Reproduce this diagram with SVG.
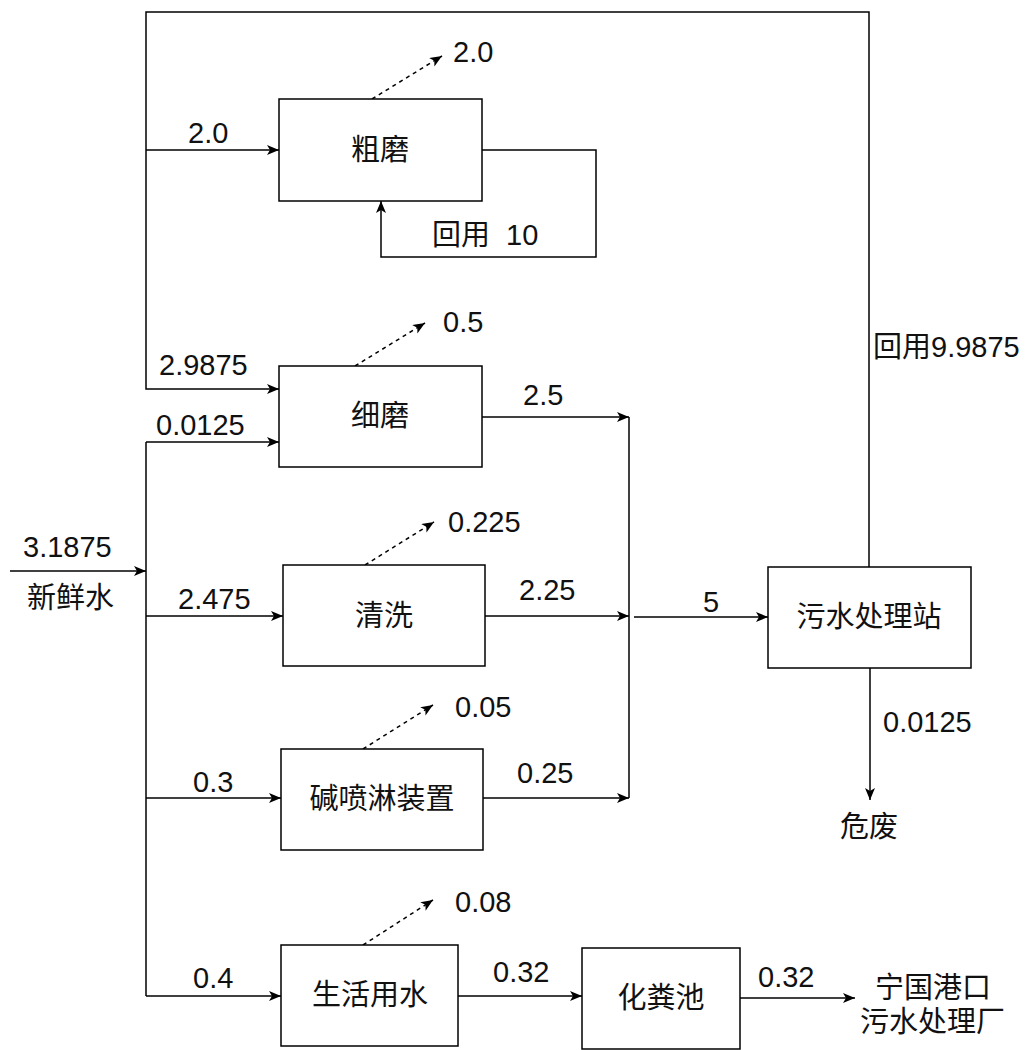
<svg xmlns="http://www.w3.org/2000/svg" width="1030" height="1050" viewBox="0 0 1030 1050">
<style>
  .box { fill: #fff; stroke: #000; stroke-width: 1.5; }
  .ln { fill: none; stroke: #000; stroke-width: 1.5; }
  .arr { marker-end: url(#ah); }
  .dash { fill: none; stroke: #000; stroke-width: 1.5; stroke-dasharray: 4 4; marker-end: url(#ah); }
  text { font-family: "Liberation Sans", "Noto Sans CJK SC", sans-serif; font-size: 29px; fill: #111; dominant-baseline: central; }
  .c { text-anchor: middle; }
</style>
<defs>
  <marker id="ah" markerUnits="userSpaceOnUse" markerWidth="14" markerHeight="12" refX="12" refY="5" orient="auto">
    <path d="M0,0 L12,5 L0,10 L3,5 z" fill="#000"/>
  </marker>
</defs>
<rect width="1030" height="1050" fill="#fff"/>
<g id="connectors">
  <polyline class="ln arr" points="869,567 869,12 146,12 146,389 279,389"/>
  <polyline class="ln arr" points="146,150 279,150"/>
  <polyline class="ln arr" points="482,150 596,150 596,257 381,257 381,201"/>
  <line class="dash" x1="372" y1="99" x2="442" y2="56"/>
  <line class="dash" x1="355" y1="366" x2="425" y2="323"/>
  <line class="dash" x1="365" y1="565" x2="434" y2="522"/>
  <line class="dash" x1="363" y1="749" x2="433" y2="705"/>
  <line class="dash" x1="363" y1="945" x2="433" y2="900"/>
  <polyline class="ln" points="146,442 146,996"/>
  <polyline class="ln arr" points="146,442 279,442"/>
  <polyline class="ln arr" points="10,571 146,571"/>
  <polyline class="ln arr" points="146,616 283,616"/>
  <polyline class="ln arr" points="146,798 281,798"/>
  <polyline class="ln arr" points="146,996 281,996"/>
  <polyline class="ln arr" points="482,417 629,417"/>
  <polyline class="ln arr" points="485,616 629,616"/>
  <polyline class="ln arr" points="483,798 629,798"/>
  <polyline class="ln" points="629,417 629,798"/>
  <polyline class="ln arr" points="634,617 768,617"/>
  <polyline class="ln arr" points="870,668 870,800"/>
  <polyline class="ln arr" points="458,996 582,996"/>
  <polyline class="ln arr" points="740,998 855,998"/>
</g>
<g id="n-cumo"><rect class="box" x="279" y="99" width="203" height="102"/><text class="c" x="380" y="150">粗磨</text></g>
<g id="n-ximo"><rect class="box" x="279" y="366" width="203" height="101"/><text class="c" x="380" y="416">细磨</text></g>
<g id="n-qingxi"><rect class="box" x="283" y="565" width="202" height="101"/><text class="c" x="384" y="616">清洗</text></g>
<g id="n-jian"><rect class="box" x="281" y="749" width="202" height="101"/><text class="c" x="382" y="799">碱喷淋装置</text></g>
<g id="n-shenghuo"><rect class="box" x="281" y="945" width="177" height="101"/><text class="c" x="370" y="995">生活用水</text></g>
<g id="n-huafen"><rect class="box" x="582" y="948" width="158" height="101"/><text class="c" x="661" y="998">化粪池</text></g>
<g id="n-wushui"><rect class="box" x="768" y="567" width="203" height="101"/><text class="c" x="869" y="617">污水处理站</text></g>
<g id="labels">
  <text x="188" y="133">2.0</text>
  <text x="453" y="52">2.0</text>
  <text x="432" y="235">回用 <tspan dx="8">10</tspan></text>
  <text x="159" y="365">2.9875</text>
  <text x="156" y="425">0.0125</text>
  <text x="443" y="322">0.5</text>
  <text x="523" y="395">2.5</text>
  <text x="23" y="547">3.1875</text>
  <text x="27" y="598">新鲜水</text>
  <text x="178" y="599">2.475</text>
  <text x="448" y="522">0.225</text>
  <text x="519" y="590">2.25</text>
  <text x="703" y="602">5</text>
  <text x="193" y="782">0.3</text>
  <text x="455" y="707">0.05</text>
  <text x="517" y="773">0.25</text>
  <text x="193" y="978">0.4</text>
  <text x="455" y="902">0.08</text>
  <text x="493" y="972">0.32</text>
  <text x="758" y="977">0.32</text>
  <text x="883" y="722">0.0125</text>
  <text x="840" y="827">危废</text>
  <text x="875" y="988">宁国港口</text>
  <text x="860" y="1022">污水处理厂</text>
  <text x="873" y="347">回用9.9875</text>
</g>
</svg>
